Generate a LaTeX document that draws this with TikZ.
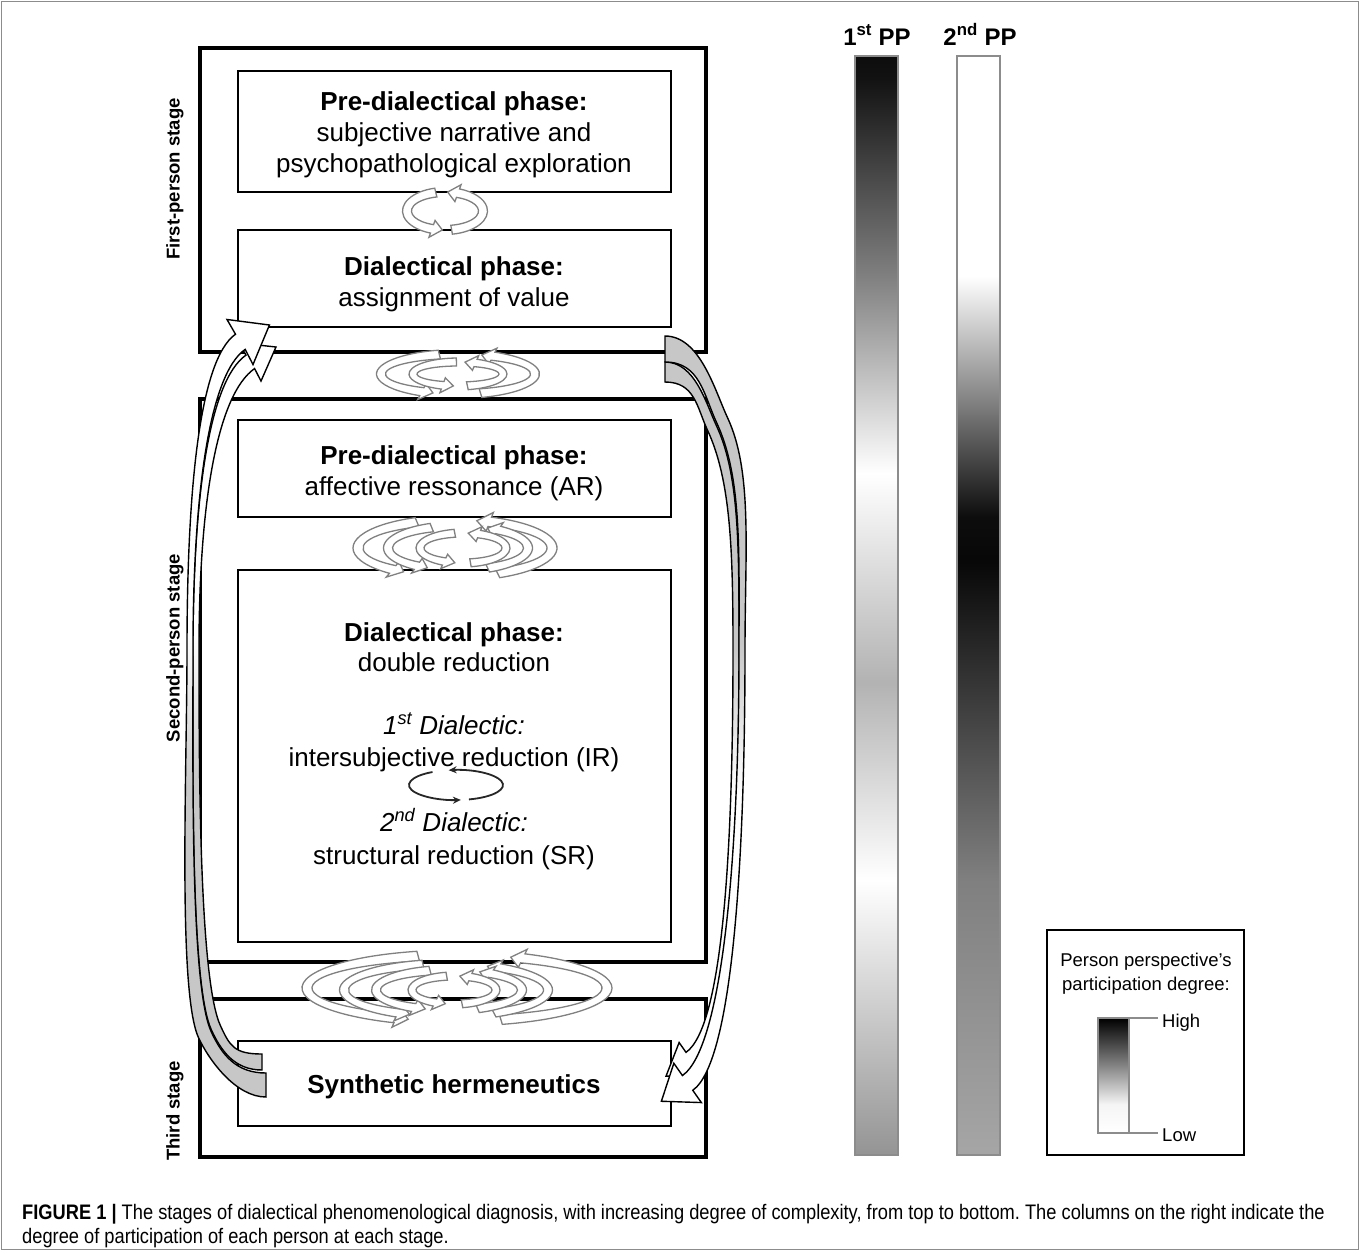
\documentclass[tikz,border=0pt]{standalone}
\usepackage{fontspec}
\setmainfont{Liberation Sans}
\newfontfamily\capfont[FakeStretch=0.87]{Liberation Sans}
\usetikzlibrary{calc,arrows.meta}
\frenchspacing

\pgfdeclareverticalshading{ppone}{100bp}{color(0bp)=(black!42); color(25bp)=(black!42); color(37.5bp)=(white); color(46.5bp)=(black!30); color(56bp)=(white); color(65bp)=(black!50); color(74bp)=(black!93); color(75bp)=(black!95); color(100bp)=(black!95)}
\pgfdeclareverticalshading{pptwo}{100bp}{color(0bp)=(black!35); color(25bp)=(black!35); color(37.5bp)=(black!50); color(52bp)=(black!97); color(54bp)=(black!95); color(65bp)=(white); color(75bp)=(white); color(100bp)=(white)}
\pgfdeclareverticalshading{legbar}{100bp}{color(0bp)=(white); color(25bp)=(white); color(37.5bp)=(black!4); color(55bp)=(black!50); color(75bp)=(black); color(100bp)=(black)}
\pgfdeclareverticalshading{leftarr}{100bp}{color(0bp)=(black!22); color(45bp)=(black!22); color(55bp)=(white); color(100bp)=(white)}
\pgfdeclareverticalshading{rightarr}{100bp}{color(0bp)=(white); color(45bp)=(white); color(55bp)=(black!22); color(100bp)=(black!22)}

% elliptic band arrow: cx cy rx ry start end headangle halfwidth headextra
\newcommand\cyc[9]{%
  \begin{scope}[shift={(#1,#2)}]
  \filldraw[cycarrow] (#5:{#3+#8} and {#4+#8}) arc[start angle=#5,end angle=#6,x radius={#3+#8},y radius={#4+#8}]
    -- (#6:{#3+#8+#9} and {#4+#8+#9}) -- ({#6+#7}:#3 and #4) -- (#6:{#3-#8-#9} and {#4-#8-#9})
    -- (#6:{#3-#8} and {#4-#8}) arc[start angle=#6,end angle=#5,x radius={#3-#8},y radius={#4-#8}] -- cycle;
  \end{scope}}
% offset bezier pieces: A angA lenA B angB lenB wA wB
\newcommand\fwd[8]{.. controls ($(#1)+(#2:#3)+({#2+90}:#7)$) and ($(#4)+({#5+180}:#6)+({#5+90}:#8)$) .. ($(#4)+({#5+90}:#8)$)}
\newcommand\bwd[8]{.. controls ($(#4)+({#5+180}:#6)+({#5-90}:#8)$) and ($(#1)+(#2:#3)+({#2-90}:#7)$) .. ($(#1)+({#2-90}:#7)$)}
% head: C ang w hw hl
\newcommand\hd[5]{-- ($(#1)+({#2+90}:#4)$) -- ($(#1)+(#2:#5)$) -- ($(#1)+({#2-90}:#4)$) -- ($(#1)+({#2-90}:#3)$)}

\begin{document}
\begin{tikzpicture}[x=1pt,y=-1pt,
  stagebox/.style={draw=black, line width=4.5pt, inner sep=0pt},
  phasebox/.style={draw=black, line width=1.6pt, inner sep=0pt},
  maintxt/.style={font=\fontsize{26}{31}\selectfont, inner sep=0pt, anchor=base},
  boldtxt/.style={maintxt, font=\fontsize{26}{31}\selectfont\bfseries},
  itxt/.style={maintxt, font=\fontsize{26}{31}\selectfont\itshape},
  stagelbl/.style={font=\fontsize{18.5}{22}\selectfont\bfseries, rotate=90, inner sep=0pt},
  cycarrow/.style={fill=white, draw=black!50, line width=1.3pt},
  sidearrow/.style={draw=black, line width=1.4pt, shade},
  thincyc/.style={draw=black!85, line width=1.8pt, -{Stealth[length=8pt,width=7pt]}},
  legtxt/.style={font=\fontsize{18.5}{22}\selectfont, inner sep=0pt},
  headtxt/.style={font=\fontsize{24}{28}\selectfont\bfseries, inner sep=0pt, anchor=base},
]
\useasboundingbox (0,0) rectangle (1360,1251);
\draw[black!45, line width=1pt] (1.5,1.5) rectangle (1358.5,1249.5);

% stage boxes
\node[stagebox, minimum width=506pt, minimum height=304pt] (s1) at (453,200) {};
\node[stagebox, minimum width=506pt, minimum height=563pt] (s2) at (453,680.5) {};
\node[stagebox, minimum width=506pt, minimum height=158pt] (s3) at (453,1078) {};

% phase boxes
\node[phasebox, minimum width=433pt, minimum height=121pt] (p1) at (454.5,131.5) {};
\node[phasebox, minimum width=433pt, minimum height=97pt] (p2) at (454.5,278.5) {};
\node[phasebox, minimum width=433pt, minimum height=97pt] (p3) at (454.5,468.5) {};
\node[phasebox, minimum width=433pt, minimum height=372pt] (p4) at (454.5,756) {};
\node[phasebox, minimum width=433pt, minimum height=85pt] (p5) at (454.5,1083.5) {};

% texts
\node[boldtxt] (t1a) at (454,110) {Pre-dialectical phase:};
\node[maintxt] (t1b) at (454,141) {subjective narrative and};
\node[maintxt] (t1c) at (454,172) {psychopathological exploration};
\node[boldtxt] (t2a) at (454,275) {Dialectical phase:};
\node[maintxt] (t2b) at (454,306) {assignment of value};
\node[boldtxt] (t3a) at (454,464) {Pre-dialectical phase:};
\node[maintxt] (t3b) at (454,495) {affective ressonance (AR)};
\node[boldtxt] (t4a) at (454,641) {Dialectical phase:};
\node[maintxt] (t4b) at (454,671) {double reduction};
\node[itxt] (t4c) at (454,734) {1\textsuperscript{st} Dialectic:};
\node[maintxt] (t4d) at (454,766) {intersubjective reduction (IR)};
\node[itxt] (t4e) at (454,831) {2\textsuperscript{nd} Dialectic:};
\node[maintxt] (t4f) at (454,864) {structural reduction (SR)};
\node[boldtxt] (t5a) at (454,1093) {Synthetic hermeneutics};

% stage labels
\node[stagelbl] (l1) at (175,179) {First-person stage};
\node[stagelbl] (l2) at (175,648) {Second-person stage};
\node[stagelbl] (l3) at (175,1111) {Third stage};

% thin cycle between IR and SR
\begin{scope}[shift={(456,785)}]
\draw[thincyc] (240:47 and 15) arc[start angle=240,end angle=84,x radius=47,y radius=15];
\draw[thincyc] (74:47 and 15) arc[start angle=74,end angle=-99,x radius=47,y radius=15];
\end{scope}

% cycle arrows p1-p2
\cyc{445}{211}{38}{19}{256}{110}{-16}{4.5}{4.5}
\cyc{445}{211}{38}{19}{80}{-70}{-16}{4.5}{4.5}
% s1-s2
\cyc{458}{374}{77}{20}{256}{118}{-9}{4.5}{4.5}
\cyc{458}{374}{77}{20}{73}{-63}{-9}{4.5}{4.5}
\cyc{458}{374}{45}{12}{268}{110}{-14}{4}{4}
\cyc{458}{374}{45}{12}{78}{-67}{-14}{4}{4}
% p3-p4
\cyc{455}{548}{97}{28}{247}{130}{-8}{5}{5}
\cyc{455}{548}{97}{28}{64}{-69}{-8}{5}{5}
\cyc{458}{548}{70}{22}{248}{126}{-10}{4.5}{4.5}
\cyc{458}{548}{70}{22}{65}{-55}{-10}{4.5}{4.5}
\cyc{463}{548}{43}{15}{259}{116}{-15}{4}{4}
\cyc{463}{548}{43}{15}{80}{-68}{-15}{4}{4}
% s2-s3
\cyc{457}{988}{150}{33}{255}{114}{-5}{5}{5}
\cyc{457}{988}{150}{33}{73}{-64}{-5}{5}{5}
\cyc{446}{990}{102}{26}{257}{118}{-7}{4.5}{4.5}
\cyc{446}{990}{102}{26}{62}{-59}{-7}{4.5}{4.5}
\cyc{449}{990}{73}{20}{255}{119}{-10}{4.5}{4.5}
\cyc{449}{990}{73}{20}{67}{-55}{-10}{4.5}{4.5}
\cyc{454}{990}{42}{14}{260}{117}{-15}{4}{4}
\cyc{454}{990}{42}{14}{79}{-67}{-15}{4}{4}

% big side arrows: left (tail bottom, head top)
\coordinate (LiA) at (262,1062); \coordinate (LiA2) at (216,1028); \coordinate (LiB) at (196,650); \coordinate (LiC) at (250,362);
\coordinate (LoA) at (266,1085); \coordinate (LoA2) at (205,1035); \coordinate (LoB) at (190,650); \coordinate (LoC) at (240,342);
\path[sidearrow, shading=leftarr] ($(LiA)+(270:8)$) \fwd{LiA}{180}{28}{LiA2}{245}{22}{8}{5} \fwd{LiA2}{245}{50}{LiB}{270}{120}{5}{3} \fwd{LiB}{270}{150}{LiC}{325}{45}{3}{8}
  \hd{LiC}{330}{8}{22}{30}
  \bwd{LiB}{270}{150}{LiC}{325}{45}{3}{8} \bwd{LiA2}{245}{50}{LiB}{270}{120}{5}{3} \bwd{LiA}{180}{28}{LiA2}{245}{22}{8}{5} -- cycle;
\path[sidearrow, shading=leftarr] ($(LoA)+(270:12)$) \fwd{LoA}{180}{30}{LoA2}{245}{25}{12}{7} \fwd{LoA2}{245}{50}{LoB}{270}{120}{7}{3} \fwd{LoB}{270}{150}{LoC}{325}{45}{3}{9}
  \hd{LoC}{330}{9}{26}{34}
  \bwd{LoB}{270}{150}{LoC}{325}{45}{3}{9} \bwd{LoA2}{245}{50}{LoB}{270}{120}{7}{3} \bwd{LoA}{180}{30}{LoA2}{245}{25}{12}{7} -- cycle;

% right (tail top, head bottom)
\coordinate (RiA) at (665,372); \coordinate (RiA2) at (712,428); \coordinate (RiB) at (736,650); \coordinate (RiC) at (690.6,1058.9);
\coordinate (RoA) at (665,349); \coordinate (RoA2) at (722,420); \coordinate (RoB) at (742,650); \coordinate (RoC) at (687.6,1082.9);
\path[sidearrow, shading=rightarr] ($(RiA)+(90:10)$) \fwd{RiA}{0}{30}{RiA2}{65}{25}{10}{5} \fwd{RiA2}{65}{55}{RiB}{90}{100}{5}{3} \fwd{RiB}{90}{200}{RiC}{145}{45}{3}{8}
  \hd{RiC}{145}{8}{20}{30}
  \bwd{RiB}{90}{200}{RiC}{145}{45}{3}{8} \bwd{RiA2}{65}{55}{RiB}{90}{100}{5}{3} \bwd{RiA}{0}{30}{RiA2}{65}{25}{10}{5} -- cycle;
\path[sidearrow, shading=rightarr] ($(RoA)+(90:13)$) \fwd{RoA}{0}{35}{RoA2}{65}{30}{13}{6} \fwd{RoA2}{65}{60}{RoB}{90}{100}{6}{3} \fwd{RoB}{90}{200}{RoC}{145}{50}{3}{9}
  \hd{RoC}{145}{9}{24}{32}
  \bwd{RoB}{90}{200}{RoC}{145}{50}{3}{9} \bwd{RoA2}{65}{60}{RoB}{90}{100}{6}{3} \bwd{RoA}{0}{35}{RoA2}{65}{30}{13}{6} -- cycle;

% perspective columns
\node[headtxt] (h1) at (877,45) {1\textsuperscript{st} PP};
\node[headtxt] (h2) at (980,45) {2\textsuperscript{nd} PP};
\path[draw=black!45, line width=1.5pt, shade, shading=ppone] (855,56) rectangle (898,1155);
\path[draw=black!45, line width=1.5pt, shade, shading=pptwo] (957,56) rectangle (1000,1155);

% legend
\node[draw=black, line width=1.5pt, minimum width=197pt, minimum height=225pt, inner sep=0pt] (leg) at (1145.5,1042.5) {};
\node[legtxt, anchor=base] (lg1) at (1146,966) {Person perspective’s};
\node[legtxt, anchor=base] (lg2) at (1146,990) {participation degree:};
\path[draw=black!45, line width=1.3pt, shade, shading=legbar] (1098,1018) rectangle (1129,1133);
\coordinate (hiS) at (1129,1018); \coordinate (hiE) at (1158,1018);
\coordinate (loS) at (1129,1133); \coordinate (loE) at (1158,1133);
\draw[black!45, line width=1.3pt] (hiS) -- (hiE);
\draw[black!45, line width=1.3pt] (loS) -- (loE);
\node[legtxt, anchor=west] (hi) at (1162,1023) {High};
\node[legtxt, anchor=west] (lo) at (1162,1135) {Low};

% caption
\node[anchor=base west, inner sep=0pt, font=\capfont\fontsize{21}{25}\selectfont] (cap1) at (22,1219) {\textbf{FIGURE 1 |} The stages of dialectical phenomenological diagnosis, with increasing degree of complexity, from top to bottom. The columns on the right indicate the};
\node[anchor=base west, inner sep=0pt, font=\capfont\fontsize{21}{25}\selectfont] (cap2) at (22,1243) {degree of participation of each person at each stage.};
\end{tikzpicture}
\end{document}
